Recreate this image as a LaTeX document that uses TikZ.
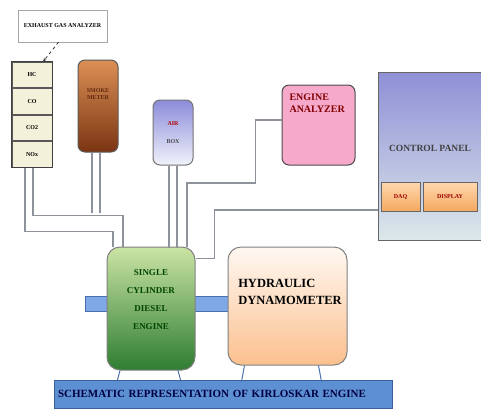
\documentclass[tikz,border=0pt]{standalone}
\usepackage{fontspec}
\setmainfont{Liberation Serif}
\usetikzlibrary{positioning,arrows.meta}

\definecolor{gasfill}{HTML}{F3F1DA}
\definecolor{smoketop}{HTML}{DC9055}
\definecolor{smokebot}{HTML}{7A3412}
\definecolor{airtop}{HTML}{8C8CDA}
\definecolor{airbot}{HTML}{F0F2FA}
\definecolor{pinkfill}{HTML}{F7A9CB}
\definecolor{paneltop}{HTML}{8F8FD6}
\definecolor{panelbot}{HTML}{DCE8EA}
\definecolor{orangetop}{HTML}{FFD8B0}
\definecolor{orangebot}{HTML}{F5A860}
\definecolor{engtop}{HTML}{CBE4A4}
\definecolor{engbot}{HTML}{2E7D32}
\definecolor{dyntop}{HTML}{FFF8F2}
\definecolor{dynbot}{HTML}{FBC08E}
\definecolor{shaftfill}{HTML}{7FA8E6}
\definecolor{shaftdraw}{HTML}{4A70B0}
\definecolor{basefill}{HTML}{5D8FD3}
\definecolor{basedraw}{HTML}{3A5F9A}
\definecolor{linkgray}{HTML}{8E939B}

\begin{document}
\begin{tikzpicture}[x=1pt,y=-1pt,
    box/.style={draw=black!65, line width=1pt, inner sep=0pt},
    cell/.style={box, fill=gasfill, minimum width=40pt, minimum height=25.5pt, font=\bfseries\fontsize{6}{7}\selectfont},
    unit/.style={box, rounded corners=7pt},
    tag/.style={font=\bfseries\fontsize{6}{7}\selectfont},
    link/.style={draw=linkgray, line width=1.1pt},
    leg/.style={draw=shaftdraw, line width=1pt},
    every node/.style={align=center}
]
\useasboundingbox (0,0) rectangle (481,413);

% Gas analyser
\node[draw=black!35, fill=white, minimum width=89pt, minimum height=32pt, tag] (gaslabel) at (62.5,26) {EXHAUST GAS ANALYZER};
\node[cell] (hc) at (32,75) {HC};
\node[cell] (co) [below=0pt of hc] {CO};
\node[cell] (cotwo) [below=0pt of co] {CO2};
\node[cell] (nox) [below=0pt of cotwo] {NOx};
\draw[black!75, line width=1.2pt] (hc.north west) rectangle (nox.south east);

% Instruments
\node[unit, top color=smoketop, bottom color=smokebot, minimum width=40pt, minimum height=92pt] (smoke) at (98,106) {};
\node[tag, text=smokebot!80!black] (smoketext) at (98,94) {SMOKE\\METER};
\node[unit, draw=black!55, top color=airtop, bottom color=airbot, minimum width=40pt, minimum height=65pt, tag] (airbox) at (173,132.5) {\textcolor{red!70!black}{AIR}\\[11pt]\textcolor{black!70}{BOX}};
\node[unit, draw=black!70, fill=pinkfill, minimum width=73pt, minimum height=80pt] (analyzer) at (318.5,125) {};
\node[font=\bfseries\fontsize{10}{12}\selectfont, text=red!50!black, align=left, anchor=north west] (analyzertext) at (286,90) {ENGINE\\ANALYZER};

% Control panel
\node[box, draw=black!60, top color=paneltop, bottom color=panelbot, minimum width=106pt, minimum height=168pt] (panel) at (431,156) {};
\node[font=\bfseries\fontsize{9.5}{11}\selectfont, text=black!75] (paneltext) at (430,148) {CONTROL PANEL};
\node[box, draw=black!60, top color=orangetop, bottom color=orangebot, minimum width=39pt, minimum height=29pt, tag, text=red!60!black] (daq) at (400.5,196.5) {DAQ};
\node[box, draw=black!60, top color=orangetop, bottom color=orangebot, minimum width=54pt, minimum height=29pt, tag, text=red!60!black] (display) at (450,196.5) {DISPLAY};

% Engine and dynamometer
\node[draw=shaftdraw, fill=shaftfill, minimum width=143pt, minimum height=15pt] (shaft) at (156.5,303.5) {};
\node[unit, rounded corners=13pt, draw=black!50, top color=engtop, bottom color=engbot, minimum width=88pt, minimum height=123pt] (engine) at (151,308.5) {};
\node[font=\bfseries\fontsize{9}{18}\selectfont, text=black!55!green!60!black] (enginetext) at (151,300) {SINGLE\\CYLINDER\\DIESEL\\ENGINE};
\node[unit, rounded corners=13pt, draw=black!50, top color=dyntop, bottom color=dynbot, minimum width=119pt, minimum height=118pt] (dyno) at (287.5,306) {};
\node[font=\bfseries\fontsize{12.5}{17}\selectfont, align=left] (dynotext) at (290,292) {HYDRAULIC\\DYNAMOMETER};

% Base
\node[draw=basedraw, fill=basefill, minimum width=337pt, minimum height=28pt, text width=331pt, align=left, font=\bfseries\fontsize{11}{13}\selectfont, text=blue!25!black] (base) at (223.5,394) {SCHEMATIC REPRESENTATION OF KIRLOSKAR ENGINE};

% Connections
\draw[-{Stealth[length=4pt]}, dashed, black!80, line width=0.8pt] ([xshift=-4pt]gaslabel.south) -- ([xshift=11pt]hc.north);
\draw[link] ([xshift=-7pt]nox.south) -- ++(0,64) -| ([xshift=-38pt]engine.north);
\draw[link] ([xshift=1pt]nox.south) -- ++(0,48) -| ([xshift=-28pt]engine.north);
\draw[link] ([xshift=-6pt]smoke.south) -- ++(0,60);
\draw[link] ([xshift=2pt]smoke.south) -- ++(0,60);
\draw[link] ([xshift=-4pt]airbox.south) -- ++(0,82);
\draw[link] ([xshift=4pt]airbox.south) -- ++(0,82);
\draw[link] ([yshift=5pt]analyzer.west) -- ++(-26,0) -- ++(0,63) -| ([xshift=36pt]engine.north);
\draw[link] ([yshift=-54pt]panel.west) -- ++(-163,0) |- ([yshift=50pt]engine.east);

% Legs
\draw[leg] ([xshift=-31pt]engine.south) -- ++(-3,11);
\draw[leg] ([xshift=27pt]engine.south) -- ++(3,11);
\draw[leg] ([xshift=-43pt]dyno.south) -- ++(-3,16);
\draw[leg] ([xshift=31pt]dyno.south) -- ++(3,16);

\end{tikzpicture}
\end{document}
